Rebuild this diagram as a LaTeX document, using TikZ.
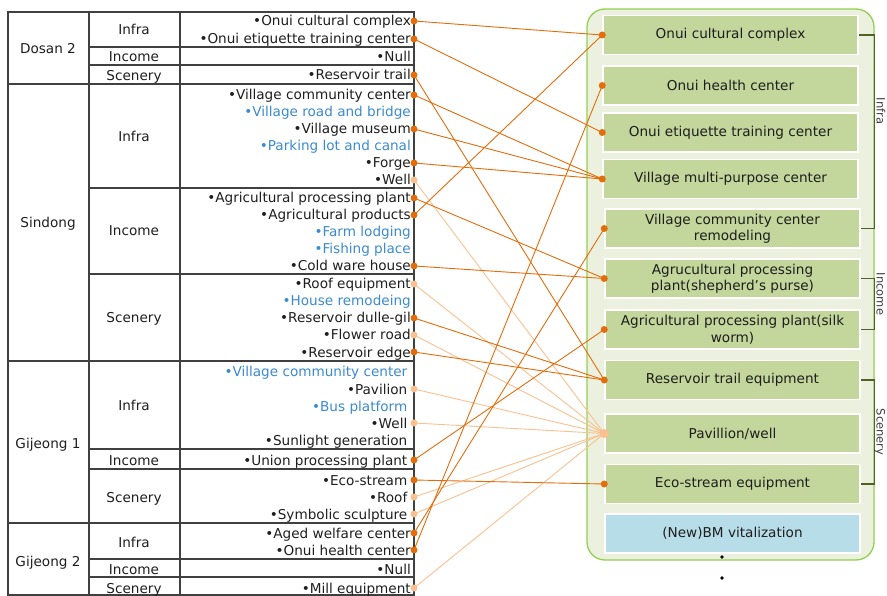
\documentclass[tikz,border=0pt]{standalone}
\usepackage{fontspec}
\setmainfont{DejaVu Sans}
\definecolor{darkor}{HTML}{E46C0A}
\definecolor{lightor}{HTML}{FAC090}
\definecolor{itemblue}{HTML}{3A8AD0}
\definecolor{boxgreen}{HTML}{C3D69B}
\definecolor{panelfill}{HTML}{EBF1DE}
\definecolor{panelline}{HTML}{92D050}
\definecolor{bmblue}{HTML}{B7DEE8}
\definecolor{brkcol}{HTML}{4F6228}
\definecolor{txt}{HTML}{1E1E1E}
\tikzset{
	every node/.style={font=\fontsize{13.6}{16.5}\selectfont, text=txt},
	cell/.style={text height=12pt, text depth=2pt, inner sep=0pt},
	item/.style={cell, anchor=east, inner xsep=3pt},
	itemg/.style={item, inner xsep=6.5pt},
	box/.style={draw=white, line width=1.5pt, fill=boxgreen, minimum width=255pt, minimum height=39pt, align=center, inner sep=2pt},
	side/.style={rotate=-90, anchor=base, inner sep=0pt, text=black!75, font=\fontsize{11.5}{13}\selectfont},
	grid/.style={draw=black!75, line width=1.1pt},
	brk/.style={draw=brkcol, line width=1.1pt},
	dark/.style={darkor, line width=0.9pt},
	light/.style={lightor, line width=0.9pt}
}
\def\link[#1](#2)(#3){\draw[#1] (#2.east) -- (#3.west); \fill[#1] (#2.east) circle (3.5);}

\begin{document}
\begin{tikzpicture}[x=1pt,y=-1pt]
	\useasboundingbox (0,0) rectangle (887,596);
	
	\draw[draw=panelline, fill=panelfill, line width=1.3pt, rounded corners=18pt] (587,9) rectangle (874,560);
	
	\node[box] (b1) at (730.5,35) {Onui cultural complex};
	\node[box] (b2) at (730.5,85.5) {Onui health center};
	\node[box] (b3) at (730.5,132.5) {Onui etiquette training center};
	\node[box] (b4) at (730.5,179) {Village multi-purpose center};
	\node[box] (b5) at (732.5,228.5) {Village community center\\remodeling};
	\node[box] (b6) at (732.5,278.5) {Agrucultural processing\\plant(shepherd’s purse)};
	\node[box] (b7) at (732.5,329.5) {Agricultural processing plant(silk\\worm)};
	\node[box] (b8) at (732.5,380) {Reservoir trail equipment};
	\node[box] (b9) at (732.5,433.5) {Pavillion/well};
	\node[box] (b10) at (732.5,484) {Eco-stream equipment};
	\node[box, fill=bmblue] (b11) at (732.5,533.5) {(New)BM vitalization};
	
	\draw[brk] (b1.east) -- ++(16,0) |- (b5.east);
	\draw[brk] (b6.east) -- ++(14,0) |- (b7.east);
	\draw[brk] (b8.east) -- ++(14,0) |- (b10.east);
	\node[side] (sInfra) at (876.5,111) {Infra};
	\node[side] (sIncome) at (876.5,294) {Income};
	\node[side] (sScenery) at (876.5,432) {Scenery};
	
	\fill (722,557) circle (1.8);
	\fill (722,578) circle (1.8);
	
	\draw[grid] (8,12) rectangle (414,595);
	\draw[grid] (89,12) -- (89,595);
	\draw[grid] (180,12) -- (180,595);
	\draw[grid] (8,84) -- (414,84);
	\draw[grid] (8,361) -- (414,361);
	\draw[grid] (8,523) -- (414,523);
	\draw[grid] (89,47) -- (414,47);
	\draw[grid] (89,65) -- (414,65);
	\draw[grid] (89,188) -- (414,188);
	\draw[grid] (89,274) -- (414,274);
	\draw[grid] (89,449) -- (414,449);
	\draw[grid] (89,469) -- (414,469);
	\draw[grid] (89,559) -- (414,559);
	\draw[grid] (89,577) -- (414,577);
	
	\node[cell] (vDosan) at (48,49) {Dosan 2};
	\node[cell] (vSindong) at (48,223) {Sindong};
	\node[cell] (vGijeongA) at (48,443) {Gijeong 1};
	\node[cell] (vGijeongB) at (48,561) {Gijeong 2};
	
	\node[cell] (dInfra) at (134,30) {Infra};
	\node[cell] (dIncome) at (134,57) {Income};
	\node[cell] (dScenery) at (134,76) {Scenery};
	\node[cell] (sdInfra) at (134,137) {Infra};
	\node[cell] (sdIncome) at (134,231) {Income};
	\node[cell] (sdScenery) at (134,318) {Scenery};
	\node[cell] (gaInfra) at (134,405) {Infra};
	\node[cell] (gaIncome) at (134,460) {Income};
	\node[cell] (gaScenery) at (134,497) {Scenery};
	\node[cell] (gbInfra) at (134,542) {Infra};
	\node[cell] (gbIncome) at (134,569) {Income};
	\node[cell] (gbScenery) at (134,588) {Scenery};
	
	\node[item] (dCult) at (414,21) {•Onui cultural complex};
	\node[item] (dEtiq) at (414,39) {•Onui etiquette training center};
	\node[item] (dNull) at (414,57) {•Null};
	\node[item] (dTrail) at (414,75) {•Reservoir trail};
	
	\node[item] (sComm) at (414,95) {•Village community center};
	\node[item, text=itemblue] (sRoad) at (414,112) {•Village road and bridge};
	\node[item] (sMuseum) at (414,129) {•Village museum};
	\node[item, text=itemblue] (sPark) at (414,146) {•Parking lot and canal};
	\node[item] (sForge) at (414,163) {•Forge};
	\node[item] (sWell) at (414,180) {•Well};
	\node[item] (sAgPlant) at (414,198) {•Agricultural processing plant};
	\node[item] (sAgProd) at (414,215) {•Agricultural products};
	\node[item, text=itemblue] (sFarm) at (414,232) {•Farm lodging};
	\node[item, text=itemblue] (sFish) at (414,249) {•Fishing place};
	\node[item] (sCold) at (414,266) {•Cold ware house};
	\node[item] (sRoof) at (414,284) {•Roof equipment};
	\node[item, text=itemblue] (sHouse) at (414,301) {•House remodeing};
	\node[item] (sDulle) at (414,318) {•Reservoir dulle-gil};
	\node[item] (sFlower) at (414,335) {•Flower road};
	\node[item] (sEdge) at (414,352) {•Reservoir edge};
	
	\node[itemg, text=itemblue] (gComm) at (414,372) {•Village community center};
	\node[itemg] (gPav) at (414,389) {•Pavilion};
	\node[itemg, text=itemblue] (gBus) at (414,406) {•Bus platform};
	\node[itemg] (gWell) at (414,423) {•Well};
	\node[itemg] (gSun) at (414,440) {•Sunlight generation};
	\node[itemg] (gUnion) at (414,460) {•Union processing plant};
	\node[itemg] (gEco) at (414,480) {•Eco-stream};
	\node[itemg] (gRoof) at (414,497) {•Roof};
	\node[itemg] (gSculp) at (414,514) {•Symbolic sculpture};
	
	\node[item] (hAged) at (414,533) {•Aged welfare center};
	\node[item] (hHealth) at (414,550) {•Onui health center};
	\node[item] (hNull) at (414,569) {•Null};
	\node[item] (hMill) at (414,588) {•Mill equipment};
	
	\link[light](sWell)(b9)
	\link[light](sRoof)(b9)
	\link[light](sFlower)(b9)
	\link[light](gPav)(b9)
	\link[light](gWell)(b9)
	\link[light](gRoof)(b9)
	\link[light](gSculp)(b9)
	\link[light](hMill)(b9)
	\fill[lightor] (b9.west) circle (4.5);
	
	\link[dark](dCult)(b1)
	\link[dark](dEtiq)(b3)
	\link[dark](dTrail)(b8)
	\link[dark](sComm)(b4)
	\link[dark](sMuseum)(b4)
	\link[dark](sForge)(b4)
	\link[dark](sAgPlant)(b6)
	\link[dark](sAgProd)(b1)
	\link[dark](sCold)(b6)
	\link[dark](sDulle)(b8)
	\link[dark](sEdge)(b8)
	\link[dark](gUnion)(b7)
	\link[dark](gEco)(b10)
	\link[dark](hAged)(b5)
	\link[dark](hHealth)(b2)
	\fill[darkor] (b1.west) circle (3.5);
	\fill[darkor] (b2.west) circle (3.5);
	\fill[darkor] (b3.west) circle (3.5);
	\fill[darkor] (b4.west) circle (3.5);
	\fill[darkor] (b5.west) circle (3.5);
	\fill[darkor] (b6.west) circle (3.5);
	\fill[darkor] (b7.west) circle (3.5);
	\fill[darkor] (b8.west) circle (3.5);
	\fill[darkor] (b10.west) circle (3.5);
\end{tikzpicture}
\end{document}
